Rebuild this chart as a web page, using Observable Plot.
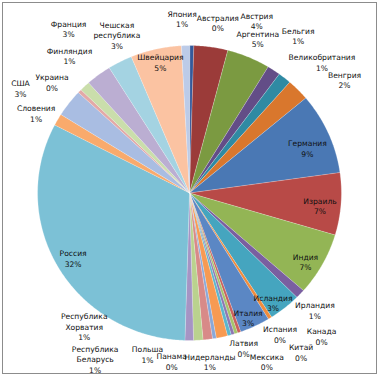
<!DOCTYPE html>
<html><head><meta charset="utf-8">
<script src="https://cdn.jsdelivr.net/npm/d3@7"></script>
<script src="https://cdn.jsdelivr.net/npm/@observablehq/plot@0.6"></script>
<style>
body{margin:0;background:#fff;}
#wrap{position:relative;width:380px;height:377px;overflow:hidden;}
#wrap svg{position:absolute;left:0;top:0;}
#border{position:absolute;left:2px;top:2px;width:373px;height:370px;border:1px solid #8c8c8c;pointer-events:none;}
</style></head><body><div id="wrap"><div id="border"></div></div>
<script>
// ---- data ----
const countries = ["Австралия","Австрия","Аргентина","Бельгия","Великобритания","Венгрия","Германия","Израиль","Индия","Ирландия","Исландия","Испания","Италия","Канада","Китай","Латвия","Мексика","Нидерланды","Панама","Польша","Республика Беларусь","Республика Хорватия","Россия","Словения","США","Украина","Финляндия","Франция","Чешская республика","Швейцария","Япония"];
const shares = [0.45,3.6,4.6,1.4,1.4,2.4,8.9,6.8,6.9,1.0,3.4,0.4,3.2,0.35,0.35,0.35,0.4,1.2,0.4,1.0,1.0,0.9,32.1,1.3,3.0,0.4,1.1,2.7,2.6,5.4,0.85];
const colors = [
  "#34599a","#9b3b39","#7b9a41","#634d87","#2f8aa3","#d9772d",
  "#4a78b4","#b84a47","#93b555","#7a5fa0","#45a5bf","#f18c3c",
  "#5b87c4","#c8605d","#a5c46b","#8e77b2","#5cb6cd","#f79a52",
  "#8aa8d8","#d88a88","#bad28e","#a694c4","#7cc1d6","#f9aa6c",
  "#a9bde2","#e3a9a7","#cadeab","#bbaed2","#a4d3e2","#fbc3a2",
  "#bccbe8"
];
// labels drawn inside their slice
const insideLabels = ["Германия","Израиль","Индия","Исландия","Италия","Россия","Швейцария"];
// label nudges in px from the automatic anchor (best-fit placement)
const labelNudge = {
  "Япония":[-3,-9],"Австралия":[26,-5],"Австрия":[44,-9],"Аргентина":[4,-2],"Бельгия":[17,-20],
  "Великобритания":[29,-2],"Венгрия":[37,2],"Германия":[2,7],"Израиль":[4,3],"Индия":[5,7],
  "Ирландия":[5,4],"Исландия":[4,11],"Испания":[3,1],"Италия":[4,10],"Канада":[78,-13],
  "Китай":[61,2],"Латвия":[7,-3],"Мексика":[34,9],"Нидерланды":[-15,7],"Панама":[-45,5],
  "Польша":[-62,-3],"Республика Беларусь":[-104,1],"Республика Хорватия":[-105,-32],
  "Россия":[-7,1],"Словения":[-10,2],"США":[-38,-4],"Украина":[-18,3],"Финляндия":[-6,-18],
  "Франция":[-22,-32],"Чешская республика":[3,-11],"Швейцария":[-1,-7]
};

// ---- geometry ----
const SX = 1.03;          // slight horizontal stretch of the original pie
const UNIT = 147.5;       // px per data unit (from projection fit)
const total = d3.sum(shares);
let cum = 0;
const slices = countries.map((name, i) => {
  const a0 = cum / total * 2 * Math.PI;
  cum += shares[i];
  const a1 = cum / total * 2 * Math.PI;
  const n = Math.max(2, Math.ceil((a1 - a0) / (Math.PI / 360)));
  const ring = [[0, 0]];
  for (let k = 0; k <= n; k++) {
    const a = a0 + (a1 - a0) * k / n;
    ring.push([SX * Math.sin(a), -Math.cos(a)]);
  }
  ring.push([0, 0]);
  return {type: "Feature", properties: {name, a0, a1, value: shares[i]}, geometry: {type: "Polygon", coordinates: [ring]}};
});

const labels = slices.map(s => {
  const {name, a0, a1, value} = s.properties;
  const mid = (a0 + a1) / 2;
  const kf = insideLabels.includes(name) ? 0.86 : 1.12;
  const [nx, ny] = labelNudge[name] || [0, 0];
  return {
    x: kf * Math.sin(mid) + nx / UNIT,
    y: -kf * Math.cos(mid) + ny / UNIT,
    text: name.replace(" ", "\n") + "\n" + Math.round(value / total * 100) + "%"
  };
});

const chart = Plot.plot({
  width: 380,
  height: 377,
  marginLeft: 37, marginRight: 39, marginTop: 45, marginBottom: 37,
  projection: {type: "identity", domain: {type: "MultiPoint", coordinates: [[-SX, -1], [SX, 1]]}, clip: false},
  color: {type: "ordinal", domain: countries, range: colors},
  style: {fontFamily: "DejaVu Sans, sans-serif", background: "#fff", overflow: "visible"},
  marks: [
    Plot.geo(slices, {
      fill: d => d.properties.name, stroke: "#ffffff", strokeWidth: 0.4, strokeOpacity: 0.6
    }),
    Plot.text(labels, {x: "x", y: "y", text: "text", fontSize: 7.6, lineHeight: 1.38, fill: "#111", clip: false})
  ]
});
document.getElementById("wrap").prepend(chart);
</script>
</body></html>
